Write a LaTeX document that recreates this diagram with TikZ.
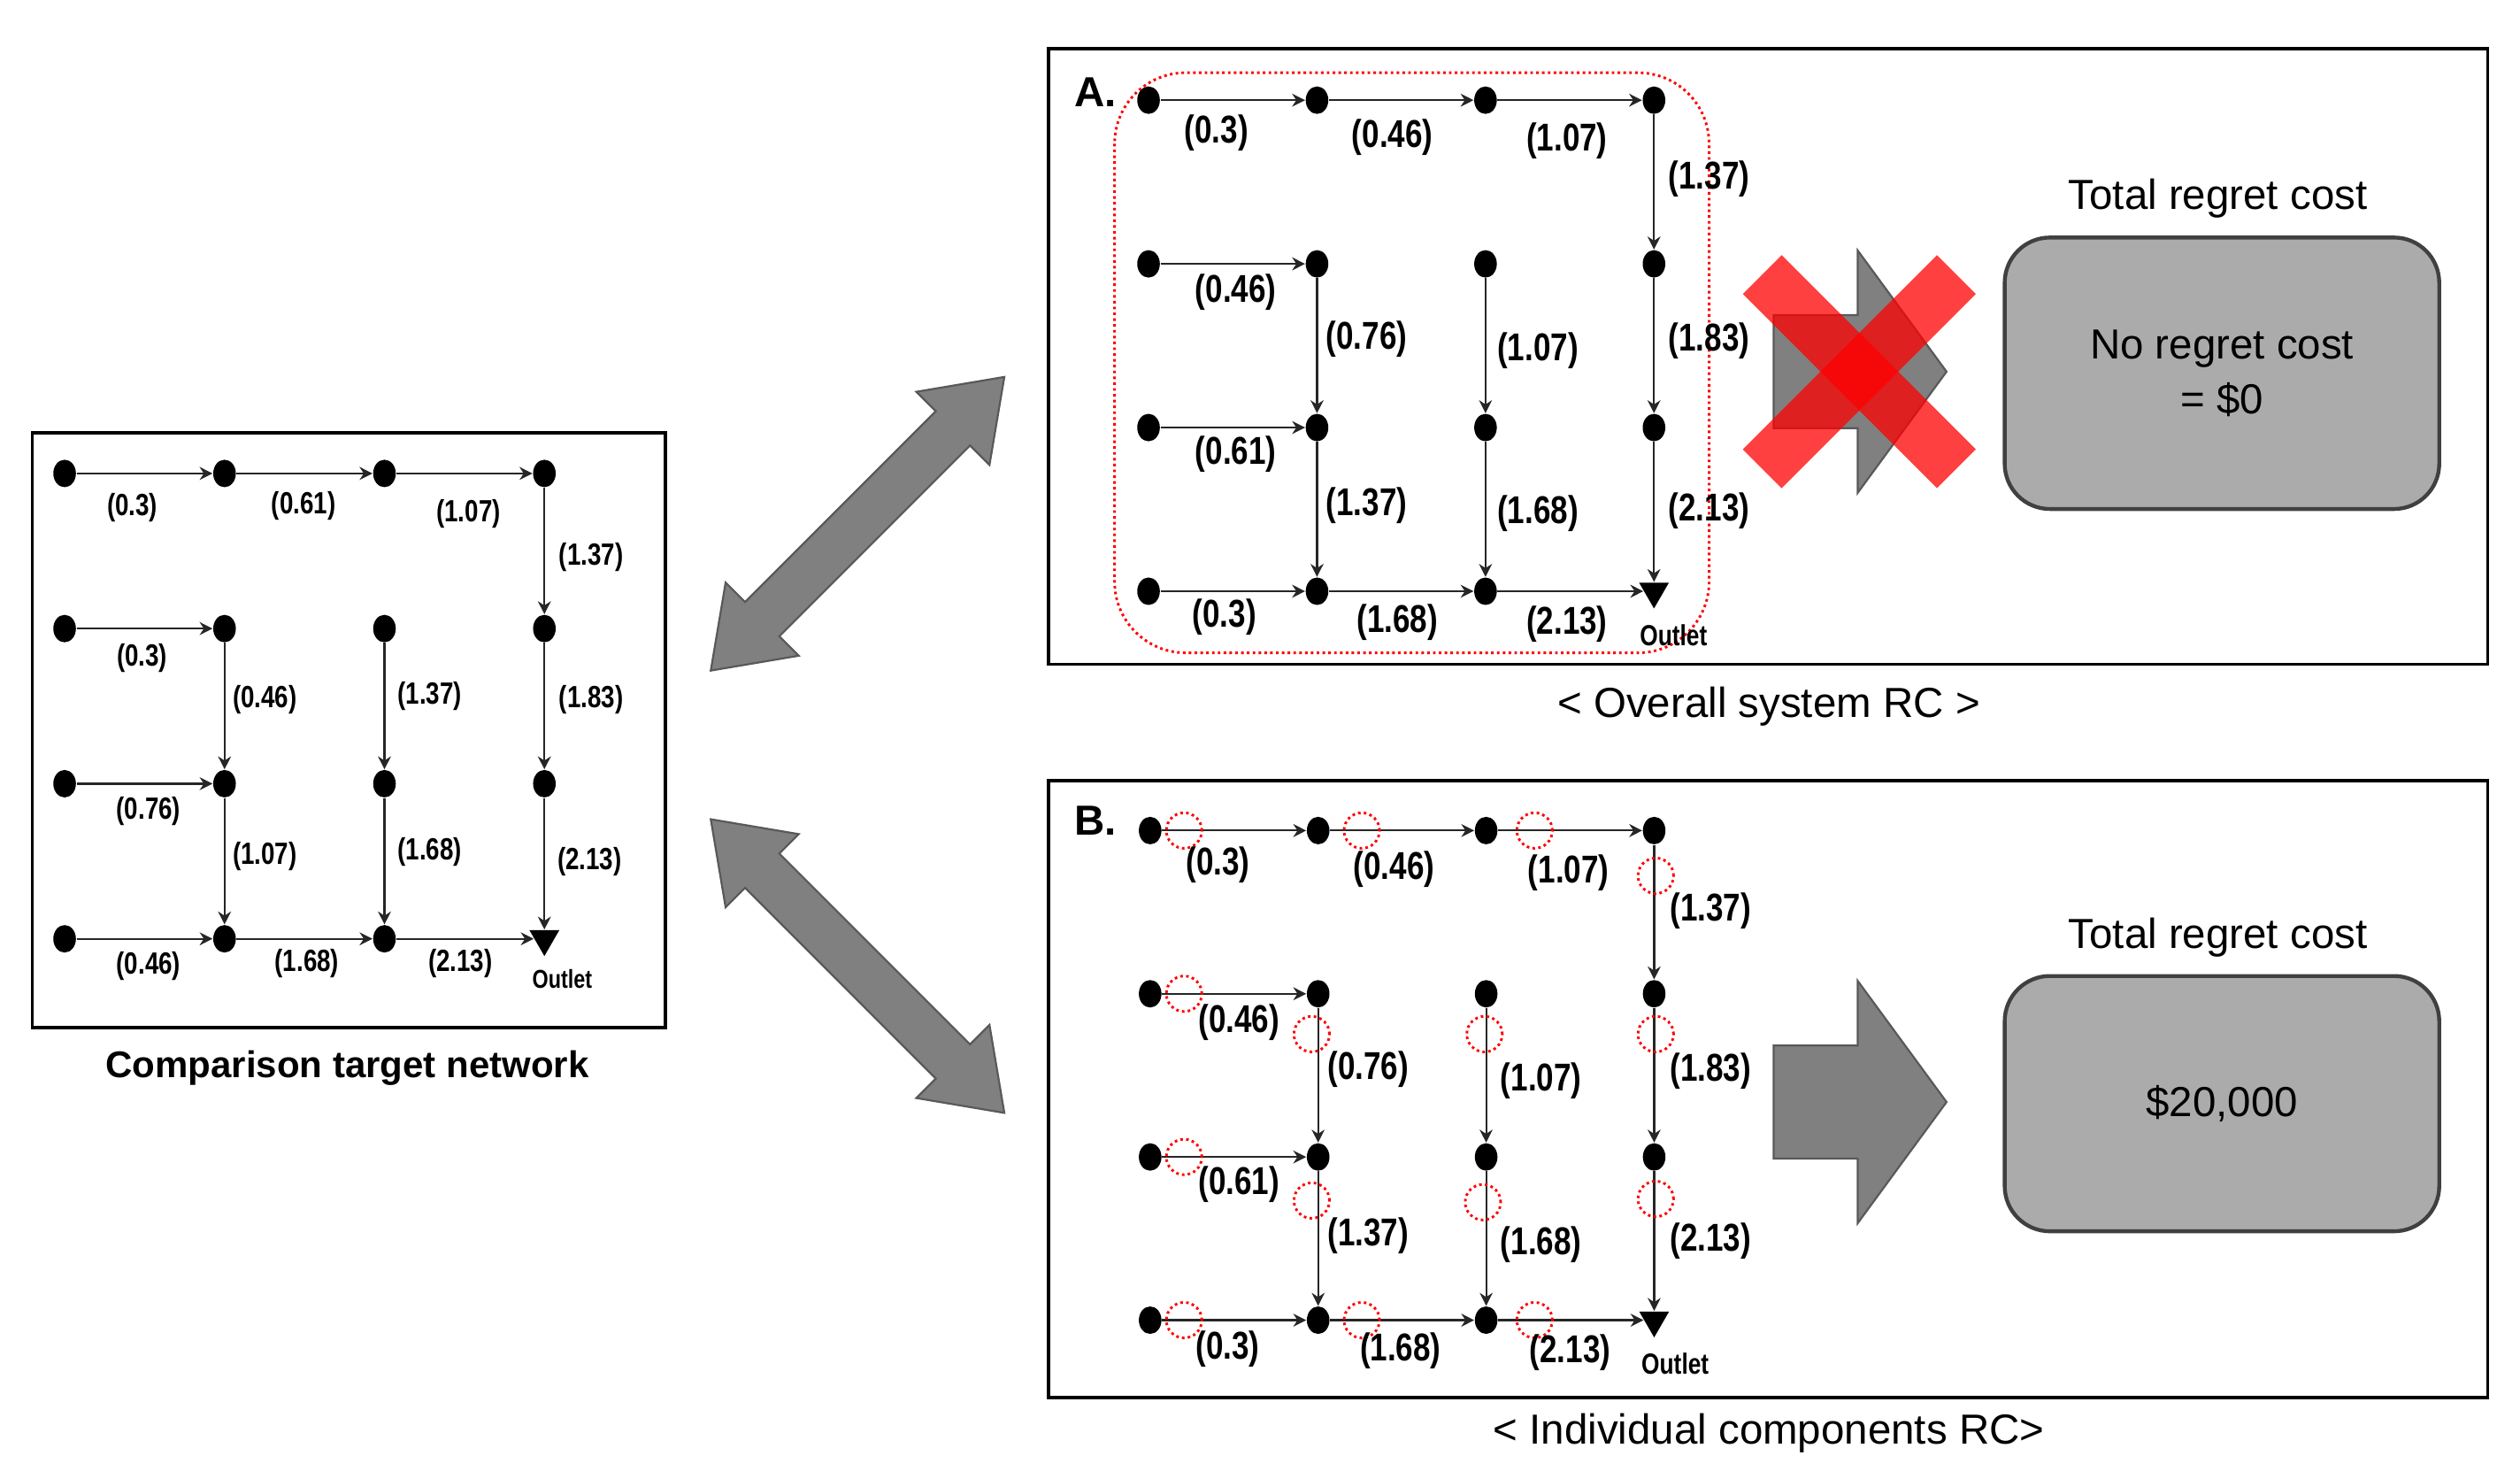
\documentclass[tikz,border=0pt]{standalone}
\usepackage{fontspec}
\setmainfont{Liberation Sans}
\newfontfamily\narrowf{Liberation Sans}[FakeStretch=0.8]
\usetikzlibrary{arrows.meta,shapes.geometric}
\begin{document}
\begin{tikzpicture}[x=0.5pt,y=-0.5pt,
  dot/.style={ellipse,fill=black,inner sep=0pt,minimum width=7pt,minimum height=8.5pt},
  outl/.style={isosceles triangle,shape border rotate=-90,fill=black,inner sep=0pt,minimum width=8pt,minimum height=8pt,isosceles triangle apex angle=60},
  ed/.style={draw=black!85,line width=0.6pt,-{Stealth[length=4pt,width=4pt]}},
  rc/.style={draw=red,densely dotted,line width=0.8pt},
  panel/.style={draw=black,line width=1pt},
  gbox/.style={draw=black!75,line width=1.2pt,fill=black!33,rounded corners=14pt},
  bigar/.style={fill=black!50,draw=black!65,line width=0.6pt}]
\useasboundingbox (0,0) rectangle (1560,915);
\newcommand\net[5]{%
  \foreach \r/\yy in {1/0,2/1,3/2,4/3}{\foreach \c/\xx in {1/0,2/1,3/2,4/3}{%
    \pgfmathsetmacro\px{#2+\xx*#4}\pgfmathsetmacro\py{#3+\yy*#5}%
    \ifnum\r\c=44 \node[outl] (#1\r\c) at (\px,\py) {};\else
    \node[dot] (#1\r\c) at (\px,\py) {};\fi}}%
  \foreach \a/\b in {11/12,12/13,13/14,14/24,21/22,22/32,23/33,24/34,31/32,32/42,33/43,34/44,41/42,42/43,43/44}{\draw[ed] (#1\a) -- (#1\b);}%
}
\newcommand\labs[3]{\foreach \x/\y/\t in {#3}{\node[font=\narrowf\bfseries\fontsize{#1}{#1}\selectfont,inner sep=0pt] at (\x,\y) {\t};}}
% left panel
\draw[panel] (20,268) rectangle (412,636);
\net{L}{40}{293}{99}{96}
\labs{9.5pt}{}{82/314/(0.3),188/313/(0.61),290/318/(1.07),366/345/(1.37),88/407/(0.3),164/433/(0.46),266/431/(1.37),366/433/(1.83),92/502/(0.76),164/530/(1.07),266/527/(1.68),365/533/(2.13),92/598/(0.46),190/596/(1.68),285/596/(2.13)}
\node[font=\narrowf\bfseries\fontsize{8pt}{8pt}\selectfont] at (348,606) {Outlet};
\node[font=\bfseries\fontsize{11.5pt}{13pt}\selectfont] at (215,661) {Comparison target network};
% double arrows
\foreach \sx/\sy/\ang in {440/415/45,440/507/-45}{
\begin{scope}[shift={(\sx,\sy)},rotate=\ang]
\fill[bigar] (0,0)--(45,-32)--(45,-15)--(212,-15)--(212,-32)--(257,0)--(212,32)--(212,15)--(45,15)--(45,32)--cycle;
\end{scope}}
% panel A
\draw[panel] (649,30) rectangle (1540,411);
\node[font=\bfseries\fontsize{13pt}{13pt}\selectfont] at (678,57) {A.};
\net{A}{711}{62}{104.3}{101.3}
\draw[rc,rounded corners=22pt] (690,45) rectangle (1058,404);
\labs{12pt}{}{753/82/(0.3),862/85/(0.46),970/87/(1.07),1058/111/(1.37),765/181/(0.46),846/210/(0.76),952/217/(1.07),1058/211/(1.83),765/281/(0.61),846/313/(1.37),952/318/(1.68),1058/316/(2.13),758/382/(0.3),865/385/(1.68),970/386/(2.13)}
\node[font=\narrowf\bfseries\fontsize{9pt}{9pt}\selectfont] at (1036,393) {Outlet};
\fill[bigar] (1098,195)--(1150,195)--(1150,155)--(1205,230)--(1150,305)--(1150,265)--(1098,265)--cycle;
\begin{scope}[shift={(1151,230)}]
\fill[red,opacity=0.75,rotate=45] (-85,-17) rectangle (85,17);
\fill[red,opacity=0.75,rotate=-45] (-85,-17) rectangle (85,17);
\end{scope}
\node[font=\fontsize{13pt}{13pt}\selectfont] at (1373,123) {Total regret cost};
\node[gbox,minimum width=134.5pt,minimum height=84pt,align=center,font=\fontsize{13pt}{17pt}\selectfont] (boxA) at (1375.5,231) {No regret cost\\= \$0};
\node[font=\fontsize{13pt}{13pt}\selectfont] at (1095,437) {< Overall system RC >};
% panel B
\draw[panel] (649,483) rectangle (1540,865);
\node[font=\bfseries\fontsize{13pt}{13pt}\selectfont] at (678,508) {B.};
\net{B}{712}{514}{104}{101}
\foreach \x/\y in {733/514,843/514,950/514,1025/542,733/615,812/640,919/640,1025/640,733/716,812/743,918/744,1025/742,733/817,843/817,950/817}{\draw[rc] (\x,\y) circle (5.5pt);}
\labs{12pt}{}{754/535/(0.3),863/538/(0.46),971/540/(1.07),1059/564/(1.37),767/633/(0.46),847/662/(0.76),954/669/(1.07),1059/663/(1.83),767/733/(0.61),847/765/(1.37),954/770/(1.68),1059/768/(2.13),760/835/(0.3),867/836/(1.68),972/837/(2.13)}
\node[font=\narrowf\bfseries\fontsize{9pt}{9pt}\selectfont] at (1037,844) {Outlet};
\fill[bigar] (1098,647)--(1150,647)--(1150,607)--(1205,682)--(1150,757)--(1150,717)--(1098,717)--cycle;
\node[font=\fontsize{13pt}{13pt}\selectfont] at (1373,580) {Total regret cost};
\node[gbox,minimum width=134.5pt,minimum height=79pt,font=\fontsize{13pt}{13pt}\selectfont] (boxB) at (1375.5,683) {\$20,000};
\node[font=\fontsize{13pt}{13pt}\selectfont] at (1095,887) {< Individual components RC>};
\end{tikzpicture}
\end{document}
